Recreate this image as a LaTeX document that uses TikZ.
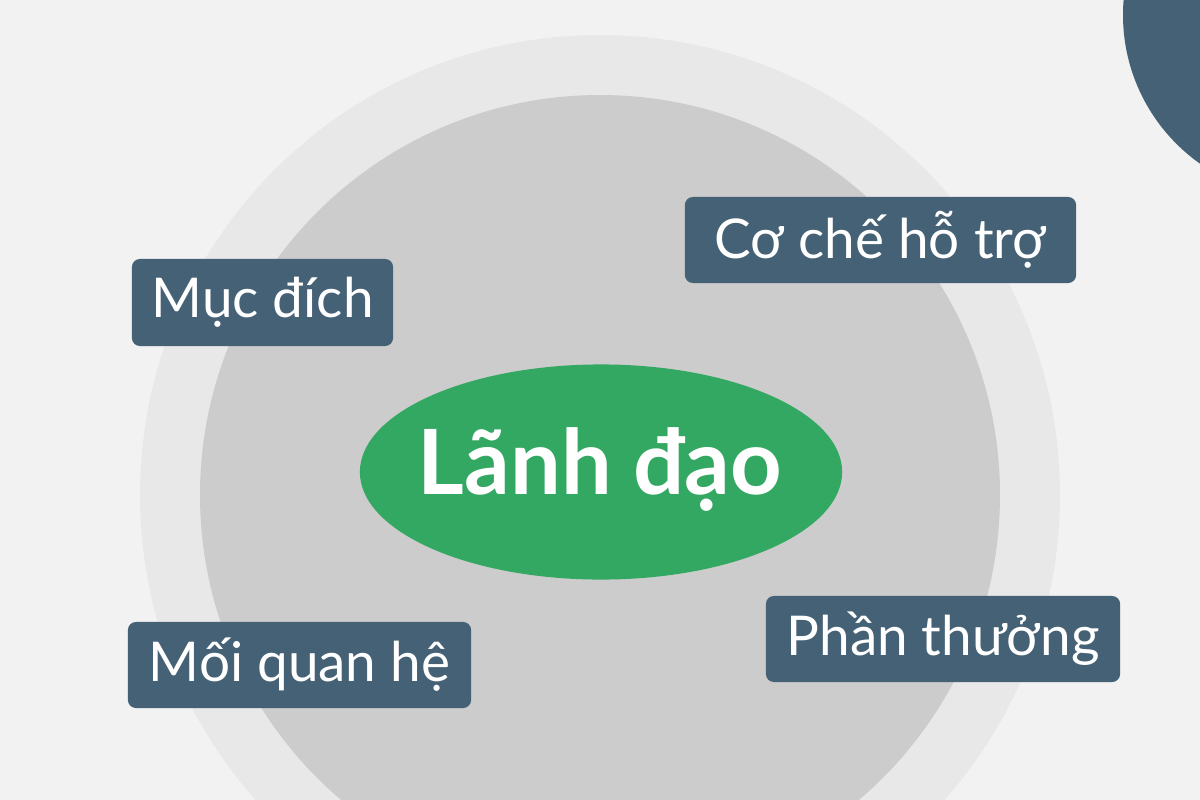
\documentclass[tikz,border=0pt]{standalone}
\usepackage{fontspec}
\setmainfont{Lato}
\usepackage{xcolor}
\usetikzlibrary{shapes.geometric}

\definecolor{bgcol}{HTML}{F2F2F2}
\definecolor{ringout}{HTML}{E8E8E8}
\definecolor{ringin}{HTML}{CCCCCC}
\definecolor{slate}{HTML}{456175}
\definecolor{leafgreen}{HTML}{33A862}

\tikzset{
  tag/.style={fill=slate, text=white, rounded corners=0.08cm, inner sep=0pt,
    font=\fontsize{15.6}{18}\selectfont},
  hub/.style={ellipse, fill=leafgreen, inner sep=0pt,
    minimum width=4.82cm, minimum height=2.15cm},
  hubtext/.style={text=white, inner sep=0pt,
    font=\fontsize{25.6}{29}\selectfont\bfseries}
}

\begin{document}
\begin{tikzpicture}[x=0.01cm,y=-0.01cm]

\clip (0,0) rectangle (1200,800);
\useasboundingbox (0,0) rectangle (1200,800);
\fill[bgcol] (0,0) rectangle (1200,800);

\coordinate (C) at (600,495);
\def\Rout{460}
\def\Rin{400}
\fill[ringout] (C) circle (\Rout);
\fill[ringin] (C) circle (\Rin);
\fill[slate] (1305,15) circle (182);

\node[hub] (lead) at (601,472) {};
\node[hubtext] (leadtext) at (600,470) {Lãnh đạo};

\node[tag, minimum width=2.61cm, minimum height=0.87cm] (purpose) at (262.5,302.5) {Mục đích};
\node[tag, minimum width=3.91cm, minimum height=0.86cm] (support) at (880.5,240) {Cơ chế hỗ trợ};
\node[tag, minimum width=3.43cm, minimum height=0.86cm] (relation) at (299.5,665) {Mối quan hệ};
\node[tag, minimum width=3.54cm, minimum height=0.86cm] (reward) at (943,639) {Phần thưởng};

\end{tikzpicture}
\end{document}
